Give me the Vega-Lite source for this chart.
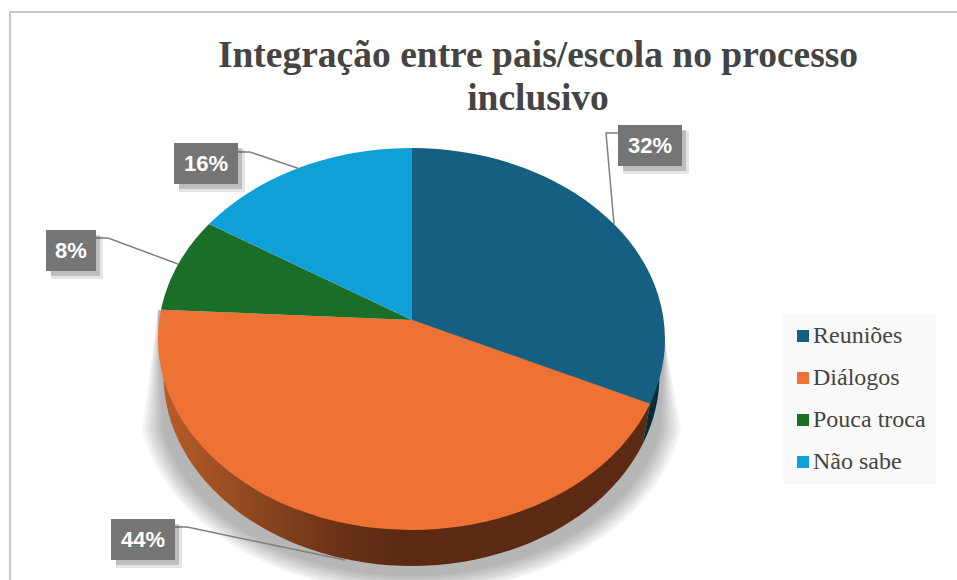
{
  "$schema": "https://vega.github.io/schema/vega-lite/v6.json",
  "width": 957,
  "height": 580,
  "padding": 0,
  "autosize": "none",
  "background": "white",
  "config": {"view": {"stroke": null}},
  "title": {
    "text": ["Integração entre pais/escola no processo", "inclusivo"],
    "anchor": "middle",
    "frame": "group",
    "dx": 59.5,
    "offset": -117,
    "font": "Liberation Serif",
    "fontSize": 37.5,
    "fontWeight": "bold",
    "color": "#444444",
    "lineHeight": 43
  },
  "data": {
    "values": [
      {"fatia": "Reuniões", "percentual": 32, "rotulo": "32%"},
      {"fatia": "Diálogos", "percentual": 44, "rotulo": "44%"},
      {"fatia": "Pouca troca", "percentual": 8, "rotulo": "8%"},
      {"fatia": "Não sabe", "percentual": 16, "rotulo": "16%"}
    ]
  },
  "resolve": {"scale": {"shape": "independent"}},
  "layer": [
    {
      "transform": [{"filter": "datum.fatia === 'Reuniões'"}],
      "mark": {"type": "point", "filled": false, "opacity": 1, "size": 4, "stroke": "#c6c6c6", "strokeWidth": 2, "shape": "M-468.5,290 L-468.5,-278 L478.5,-278"}
    },
    {
      "data": {"values": [{"nivel": "n1"}, {"nivel": "n2"}, {"nivel": "n3"}, {"nivel": "n4"}, {"nivel": "n5"}, {"nivel": "n6"}, {"nivel": "n7"}, {"nivel": "n8"}]},
      "mark": {"type": "point", "filled": true, "opacity": 0.04, "size": 4, "fill": "black"},
      "encoding": {
        "shape": {
          "field": "nivel", "type": "nominal", "legend": null,
          "scale": {
            "domain": ["n1", "n2", "n3", "n4", "n5", "n6", "n7", "n8"],
            "range": [
              "M-320.5,20 L-336.6,140 A274,199 0 0 0 202.6,140 L186.5,50 Z",
              "M-320.5,20 L-333.7,140 A271,196 0 0 0 199.7,140 L186.5,50 Z",
              "M-320.5,20 L-330.7,140 A268,193 0 0 0 196.7,140 L186.5,50 Z",
              "M-320.5,20 L-327.8,140 A265,190 0 0 0 193.8,140 L186.5,50 Z",
              "M-320.5,20 L-324.8,140 A262,187 0 0 0 190.8,140 L186.5,50 Z",
              "M-320.5,20 L-321.9,140 A259,184 0 0 0 187.9,140 L186.5,50 Z",
              "M-320.5,20 L-318.9,140 A256,181 0 0 0 184.9,140 L186.5,50 Z",
              "M-320.5,20 L-316,140 A253,178 0 0 0 182,140 L186.5,50 Z"
            ]
          }
        }
      }
    },
    {
      "transform": [{"filter": "datum.fatia === 'Diálogos'"}],
      "mark": {
        "type": "point", "filled": true, "opacity": 1, "size": 4,
        "shape": "M-315,85 A248,191 0 0 0 164.5,153.5 L171.5,113.7 L-66.5,30 Z",
        "fill": {
          "gradient": "linear", "x1": 0, "y1": 0, "x2": 1, "y2": 0,
          "stops": [
            {"offset": 0, "color": "#b85c28"},
            {"offset": 0.18, "color": "#8f4820"},
            {"offset": 0.36, "color": "#6b3216"},
            {"offset": 0.48, "color": "#5c2a12"},
            {"offset": 1, "color": "#5c2a12"}
          ]
        }
      }
    },
    {
      "transform": [{"filter": "datum.fatia === 'Reuniões'"}],
      "mark": {"type": "point", "filled": true, "opacity": 1, "size": 4, "fill": "#062c3c", "shape": "M171.5,113.7 L164.5,153.5 A248,191 0 0 0 181,85 Z"}
    },
    {
      "mark": {"type": "point", "filled": true, "opacity": 1, "size": 4},
      "encoding": {
        "color": {
          "field": "fatia", "type": "nominal",
          "scale": {"domain": ["Reuniões", "Diálogos", "Pouca troca", "Não sabe"], "range": ["#156082", "#ee7233", "#1b6e28", "#10a0d8"]},
          "legend": {
            "title": null, "orient": "none", "legendX": 783, "legendY": 314,
            "symbolType": "square", "symbolSize": 144, "symbolStrokeWidth": 0, "symbolOffset": -2,
            "labelFont": "Liberation Serif", "labelFontSize": 24, "labelColor": "#444444", "labelLimit": 300,
            "rowPadding": 18, "padding": 10, "fillColor": "#f9f9f9", "labelOffset": -2
          }
        },
        "shape": {
          "field": "fatia", "type": "nominal", "legend": null,
          "scale": {
            "domain": ["Reuniões", "Diálogos", "Pouca troca", "Não sabe"],
            "range": [
              "M-66.5,30 L-66.5,-142 A253.5,191 0 0 1 171.5,113.7 Z",
              "M-66.5,30 L171.5,113.7 A253.5,191 0 0 1 -317.5,19.7 Z",
              "M-66.5,30 L-317.5,19.7 A253.5,191 0 0 1 -269.5,-65.9 Z",
              "M-66.5,30 L-269.5,-65.9 A253.5,191 0 0 1 -66.5,-142 Z"
            ]
          }
        }
      }
    },
    {
      "mark": {"type": "point", "filled": false, "opacity": 1, "size": 4, "stroke": "#7f7f7f", "strokeWidth": 1.5},
      "encoding": {
        "shape": {
          "field": "fatia", "type": "nominal", "legend": null,
          "scale": {
            "domain": ["Reuniões", "Diálogos", "Pouca troca", "Não sabe"],
            "range": [
              "M139.5,-157 L127.5,-157 L135.5,-66",
              "M-303.5,237 L-291.5,237 L-133.5,270",
              "M-382.5,-52 L-370.5,-52 L-300.5,-26",
              "M-240.5,-138 L-228.5,-138 L-178.5,-121"
            ]
          }
        }
      }
    },
    {
      "mark": {"type": "point", "filled": true, "opacity": 0.13, "size": 4, "fill": "#333333"},
      "encoding": {
        "shape": {
          "field": "fatia", "type": "nominal", "legend": null,
          "scale": {
            "domain": ["Reuniões", "Diálogos", "Pouca troca", "Não sabe"],
            "range": [
              "M144.5,-159 H210.5 V-116 H144.5 Z",
              "M-362.5,235 H-296.5 V278 H-362.5 Z",
              "M-427.5,-54 H-375.5 V-11 H-427.5 Z",
              "M-299.5,-141 H-233.5 V-98 H-299.5 Z"
            ]
          }
        }
      }
    },
    {
      "mark": {"type": "point", "filled": true, "opacity": 0.22, "size": 4, "fill": "#333333"},
      "encoding": {
        "shape": {
          "field": "fatia", "type": "nominal", "legend": null,
          "scale": {
            "domain": ["Reuniões", "Diálogos", "Pouca troca", "Não sabe"],
            "range": [
              "M144.5,-160 H207.5 V-119 H144.5 Z",
              "M-362.5,234 H-299.5 V275 H-362.5 Z",
              "M-427.5,-55 H-378.5 V-14 H-427.5 Z",
              "M-299.5,-142 H-236.5 V-101 H-299.5 Z"
            ]
          }
        }
      }
    },
    {
      "mark": {"type": "point", "filled": true, "opacity": 1, "size": 4, "fill": "#757575"},
      "encoding": {
        "shape": {
          "field": "fatia", "type": "nominal", "legend": null,
          "scale": {
            "domain": ["Reuniões", "Diálogos", "Pouca troca", "Não sabe"],
            "range": [
              "M139.5,-165 H203.5 V-124 H139.5 Z",
              "M-367.5,229 H-303.5 V270 H-367.5 Z",
              "M-432.5,-60 H-382.5 V-19 H-432.5 Z",
              "M-304.5,-147 H-240.5 V-106 H-304.5 Z"
            ]
          }
        }
      }
    },
    {
      "transform": [{"filter": "datum.fatia === 'Reuniões'"}],
      "mark": {"type": "text", "font": "Liberation Sans", "fontSize": 22, "fontWeight": "bold", "color": "white", "align": "center", "baseline": "middle", "dx": 171.5, "dy": -144.5},
      "encoding": {"text": {"field": "rotulo"}}
    },
    {
      "transform": [{"filter": "datum.fatia === 'Diálogos'"}],
      "mark": {"type": "text", "font": "Liberation Sans", "fontSize": 22, "fontWeight": "bold", "color": "white", "align": "center", "baseline": "middle", "dx": -335.5, "dy": 249.5},
      "encoding": {"text": {"field": "rotulo"}}
    },
    {
      "transform": [{"filter": "datum.fatia === 'Pouca troca'"}],
      "mark": {"type": "text", "font": "Liberation Sans", "fontSize": 22, "fontWeight": "bold", "color": "white", "align": "center", "baseline": "middle", "dx": -407.5, "dy": -39.5},
      "encoding": {"text": {"field": "rotulo"}}
    },
    {
      "transform": [{"filter": "datum.fatia === 'Não sabe'"}],
      "mark": {"type": "text", "font": "Liberation Sans", "fontSize": 22, "fontWeight": "bold", "color": "white", "align": "center", "baseline": "middle", "dx": -272.5, "dy": -126.5},
      "encoding": {"text": {"field": "rotulo"}}
    }
  ]
}
